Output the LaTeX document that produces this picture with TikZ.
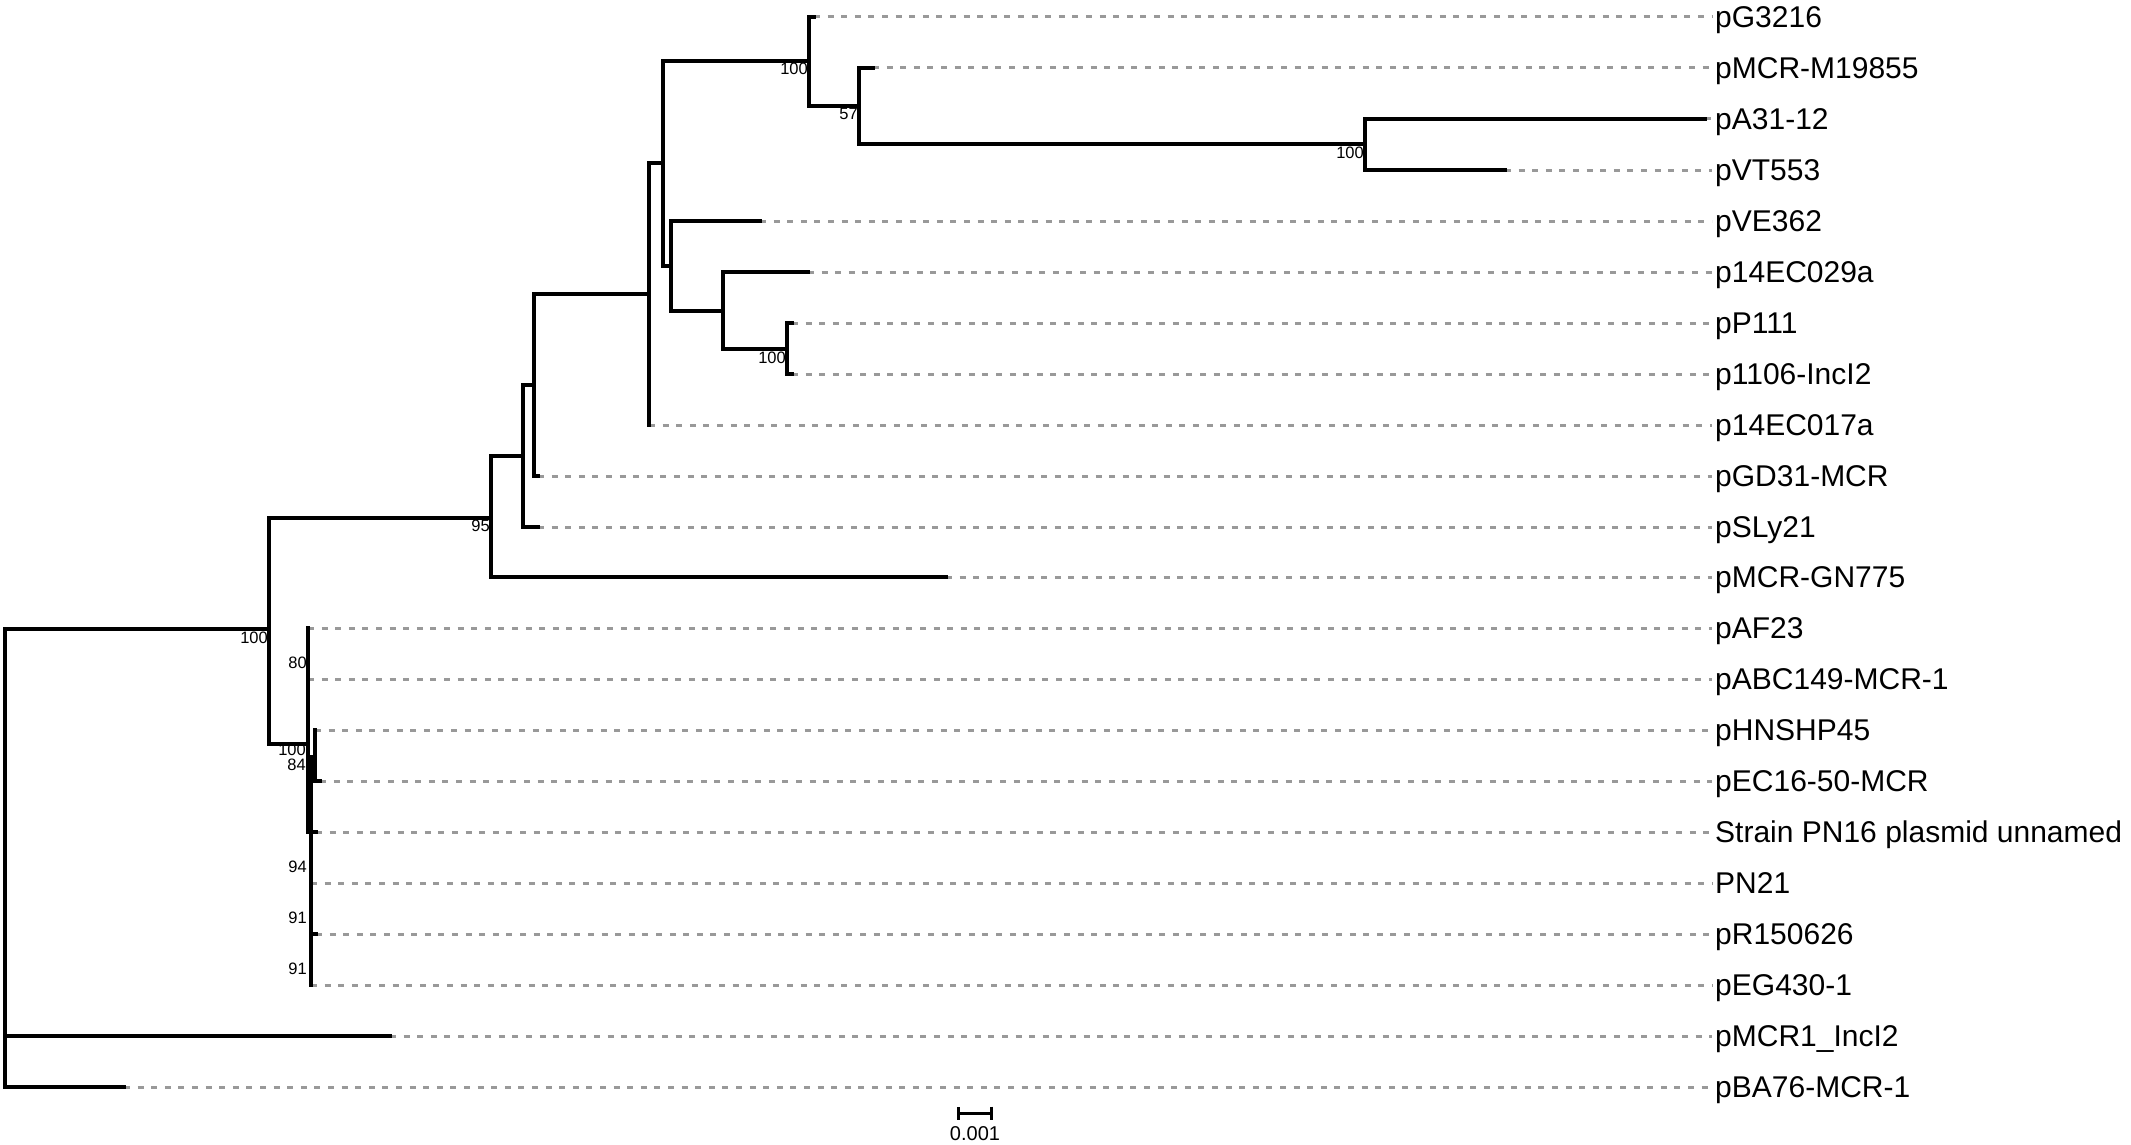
\documentclass[tikz,border=0pt]{standalone}
\usepackage{fontspec}
\setmainfont{Liberation Sans}
\usetikzlibrary{arrows.meta}
\begin{document}
\begin{tikzpicture}[x=1pt,y=-1pt,
  br/.style={line width=3.4pt, line cap=rect, line join=miter, black},
  lead/.style={line width=3pt, color=black!40, dash pattern=on 6pt off 7.6pt, shorten >=3pt},
  tiplab/.style={anchor=west, inner sep=0pt, text height=21.5pt, text depth=0pt, font=\fontsize{30}{36}\selectfont},
  boot/.style={anchor=base east, inner sep=0pt, font=\fontsize{16.5}{19}\selectfont}]
\useasboundingbox (0,0) rectangle (2131,1145);
% internal nodes
\coordinate (R) at (5,629);
\coordinate (A) at (269,629);
\coordinate (B) at (491,518);
\coordinate (D1) at (523,456);
\coordinate (D2) at (534,385);
\coordinate (F) at (649,294);
\coordinate (F2) at (663,163);
\coordinate (G) at (809,61);
\coordinate (I) at (859,106);
\coordinate (J) at (1365,144);
\coordinate (H) at (671,266);
\coordinate (I2) at (723,311);
\coordinate (L) at (787,349);
\coordinate (C) at (308,744);
\coordinate (C2) at (311,757);
\coordinate (K) at (315,757);
% tips
\coordinate (t0) at (814,17);
\coordinate (t1) at (873,68);
\coordinate (t2) at (1705,119);
\coordinate (t3) at (1505,170);
\coordinate (t4) at (760,221);
\coordinate (t5) at (808,272);
\coordinate (t6) at (792,323);
\coordinate (t7) at (792,374);
\coordinate (t8) at (649,425);
\coordinate (t9) at (538,476);
\coordinate (t10) at (538,527);
\coordinate (t11) at (946,577);
\coordinate (t12) at (308,628);
\coordinate (t13) at (308,679);
\coordinate (t14) at (315,730);
\coordinate (t15) at (320,781);
\coordinate (t16) at (316,832);
\coordinate (t17) at (311,883);
\coordinate (t18) at (316,934);
\coordinate (t19) at (311,985);
\coordinate (t20) at (390,1036);
\coordinate (t21) at (124,1087);
% tip labels
\node[tiplab] (l0) at (1715,17) {pG3216};
\node[tiplab] (l1) at (1715,68) {pMCR-M19855};
\node[tiplab] (l2) at (1715,119) {pA31-12};
\node[tiplab] (l3) at (1715,170) {pVT553};
\node[tiplab] (l4) at (1715,221) {pVE362};
\node[tiplab] (l5) at (1715,272) {p14EC029a};
\node[tiplab] (l6) at (1715,323) {pP111};
\node[tiplab] (l7) at (1715,374) {p1106-IncI2};
\node[tiplab] (l8) at (1715,425) {p14EC017a};
\node[tiplab] (l9) at (1715,476) {pGD31-MCR};
\node[tiplab] (l10) at (1715,527) {pSLy21};
\node[tiplab] (l11) at (1715,577) {pMCR-GN775};
\node[tiplab] (l12) at (1715,628) {pAF23};
\node[tiplab] (l13) at (1715,679) {pABC149-MCR-1};
\node[tiplab] (l14) at (1715,730) {pHNSHP45};
\node[tiplab] (l15) at (1715,781) {pEC16-50-MCR};
\node[tiplab] (l16) at (1715,832) {Strain PN16 plasmid unnamed};
\node[tiplab] (l17) at (1715,883) {PN21};
\node[tiplab] (l18) at (1715,934) {pR150626};
\node[tiplab] (l19) at (1715,985) {pEG430-1};
\node[tiplab] (l20) at (1715,1036) {pMCR1\_IncI2};
\node[tiplab] (l21) at (1715,1087) {pBA76-MCR-1};
% leader lines
\foreach \i in {0,...,21} { \draw[lead] (t\i) -- (l\i.west); }
% branches
\draw[br] (R) -- (A);
\draw[br] (R) |- (t20);
\draw[br] (R) |- (t21);
\draw[br] (A) |- (B);
\draw[br] (A) |- (C);
\draw[br] (B) |- (D1);
\draw[br] (B) |- (t11);
\draw[br] (D1) |- (D2);
\draw[br] (D1) |- (t10);
\draw[br] (D2) |- (F);
\draw[br] (D2) |- (t9);
\draw[br] (F) |- (F2);
\draw[br] (F) |- (t8);
\draw[br] (F2) |- (G);
\draw[br] (F2) |- (H);
\draw[br] (G) |- (t0);
\draw[br] (G) |- (I);
\draw[br] (I) |- (t1);
\draw[br] (I) |- (J);
\draw[br] (J) |- (t2);
\draw[br] (J) |- (t3);
\draw[br] (H) |- (t4);
\draw[br] (H) |- (I2);
\draw[br] (I2) |- (t5);
\draw[br] (I2) |- (L);
\draw[br] (L) |- (t6);
\draw[br] (L) |- (t7);
\draw[br] (C) |- (t12);
\draw[br] (C) |- (t13);
\draw[br] (C) |- (t16);
\draw[br] (C) |- (C2);
\draw[br] (C2) -- (K);
\draw[br] (K) |- (t14);
\draw[br] (K) |- (t15);
\draw[br] (C2) |- (t17);
\draw[br] (C2) |- (t18);
\draw[br] (C2) |- (t19);
% bootstrap values
\node[boot] (bA) at (268,643) {100};
\node[boot] (bB) at (490,531) {95};
\node[boot] (bG) at (808,75) {100};
\node[boot] (bI) at (858,120) {57};
\node[boot] (bJ) at (1364,158) {100};
\node[boot] (bL) at (786,363) {100};
\node[boot] (b80) at (307,668) {80};
\node[boot] (bC) at (306,755) {100};
\node[boot] (b84) at (306,770) {84};
\node[boot] (b94) at (307,872) {94};
\node[boot] (b91a) at (307,923) {91};
\node[boot] (b91b) at (307,974) {91};
% scale bar
\coordinate (s1) at (957,1113);
\coordinate (s2) at (993,1113);
\draw[line width=3pt, {Bar[width=13pt,line width=3pt]}-{Bar[width=13pt,line width=3pt]}] (s1) -- (s2);
\node[anchor=base, inner sep=0pt, font=\fontsize{20}{24}\selectfont] (sl) at (975,1140) {0.001};
\end{tikzpicture}
\end{document}
